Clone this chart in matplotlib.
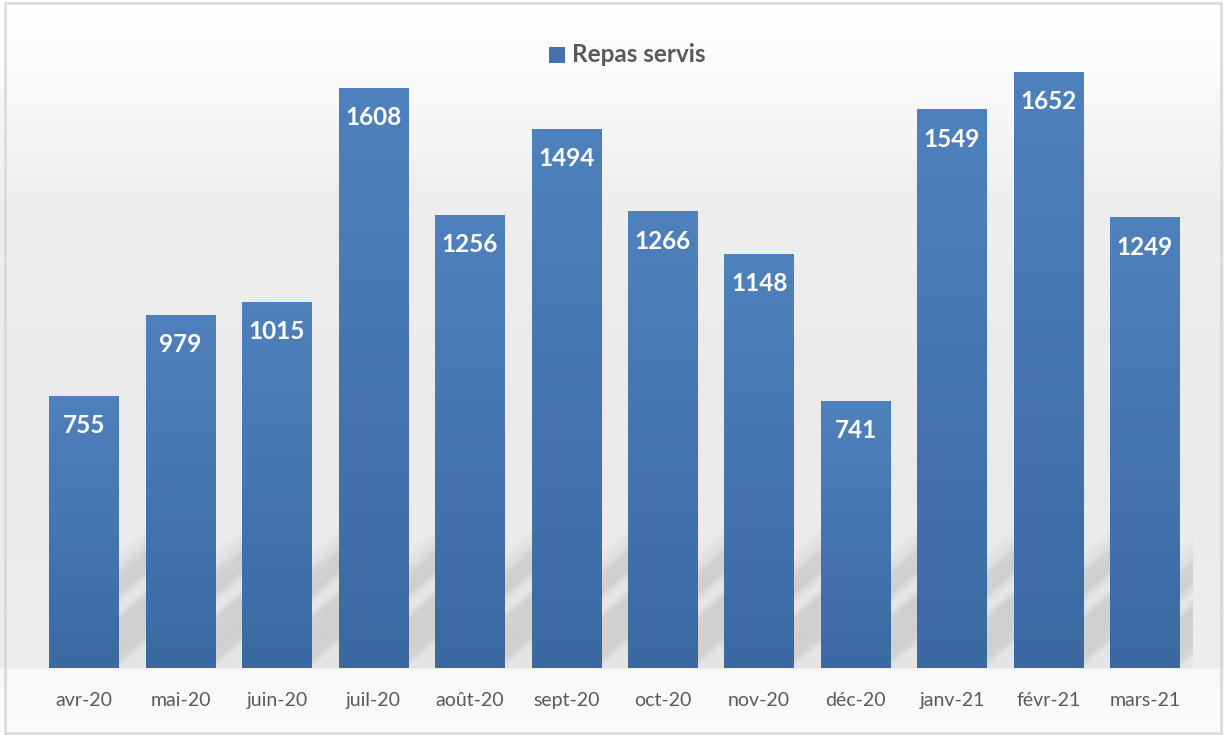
import numpy as np
import matplotlib
matplotlib.use("Agg")
import matplotlib.pyplot as plt
from matplotlib.patches import Rectangle
from matplotlib.colors import LinearSegmentedColormap

months = ["avr-20", "mai-20", "juin-20", "juil-20", "août-20", "sept-20",
          "oct-20", "nov-20", "déc-20", "janv-21", "févr-21", "mars-21"]
repas = [755, 979, 1015, 1608, 1256, 1494, 1266, 1148, 741, 1549, 1652, 1249]
series_name = "Repas servis"

plt.rcParams['font.family'] = ['Lato', 'DejaVu Sans']

W, H = 1224, 735
fig = plt.figure(figsize=(W / 100, H / 100), dpi=100)

# background gradient (figure pixels, from top)
bg = fig.add_axes([0, 0, 1, 1])
bg.set_axis_off()
ypx = np.arange(H)
vals = np.interp(ypx, [0, 60, 200, 450, 668, 669, 735],
                 [255, 252, 238, 234, 238, 248, 252]) / 255.0
bg_img = np.repeat(vals[:, None], 3, axis=1)[:, None, :]
bg.imshow(bg_img, aspect="auto", extent=[0, 1, 0, 1], origin="upper")
bg.set_xlim(0, 1)
bg.set_ylim(0, 1)
bg.add_patch(Rectangle((5 / W, 2 / H), 1216 / W, 730 / H,
                       fill=False, edgecolor="#d9d9d9", linewidth=1.8))

ax_l, ax_r, base_px, top_px = 36, 1193, 668, 18.6
ax = fig.add_axes([ax_l / W, 1 - base_px / H, (ax_r - ax_l) / W, (base_px - top_px) / H])
ax.patch.set_alpha(0)
x = np.arange(len(months))
width = 0.72
ymax = 1800
ax.set_xlim(-0.5, len(months) - 0.5)
ax.set_ylim(0, ymax)

# slanted soft shadows in the gaps (pixel grid over the lower part of the axes)
npx = ax_r - ax_l
sh_h = 140
px_per_x = npx / len(months)
px_per_y = (base_px - top_px) / ymax
gx = np.arange(npx)[None, :] + 0.5
gy = np.arange(sh_h)[:, None] + 0.5
alpha = np.zeros((sh_h, npx))
for xi in x:
    br = (xi + width / 2 + 0.5) * px_per_x
    d = gx - br
    inside = (d >= -1) & (d <= (1 - width) * px_per_x + 2)
    hp = gy - 0.85 * d
    prof = np.interp(hp, [-40, 0, 8, 20, 48, 56, 62, 68, 76, 92, 102, 118],
                     [0.04, 0.05, 0.15, 0.17, 0.16, 0.05, 0.03, 0.08, 0.17, 0.15, 0.07, 0.0])
    alpha = np.where(inside, np.maximum(alpha, prof), alpha)
sh = np.zeros((sh_h, npx, 4))
sh[..., :3] = 0.25
sh[..., 3] = alpha
ax.imshow(sh, aspect="auto", origin="lower", interpolation="bilinear",
          extent=[-0.5, len(months) - 0.5, 0, sh_h / px_per_y], zorder=1)

bars = ax.bar(x, repas, width=width, color="none", zorder=2)
cm_bar = LinearSegmentedColormap.from_list("bar", ["#3c69a2", "#4f81bd"])
for b in bars:
    x0, w, h = b.get_x(), b.get_width(), b.get_height()
    im = ax.imshow(np.linspace(0, 1, 256).reshape(-1, 1), aspect="auto", cmap=cm_bar,
                   extent=[x0, x0 + w, 0, h], origin="lower", zorder=2)
    im.set_clip_path(b)

for xi, v in zip(x, repas):
    ax.annotate(str(v), (xi, v), xytext=(0, -30), textcoords="offset pixels",
                ha="center", va="center", color="white", fontsize=17.5,
                fontweight="bold", zorder=3)

ax.set_xticks(x)
ax.set_xticklabels(months, fontsize=14, color="#595959")
ax.tick_params(axis="x", length=0, pad=17)
ax.set_yticks([])
for sp in ax.spines.values():
    sp.set_visible(False)
ax.set_xlim(-0.5, len(months) - 0.5)
ax.set_ylim(0, ymax)

# legend
fig.patches.append(Rectangle((549 / W, 1 - 63 / H), 16 / W, 16 / H,
                             transform=fig.transFigure, facecolor="#4472b0",
                             edgecolor="none"))
fig.text(572 / W, 1 - 55 / H, series_name, fontsize=17.5, fontweight="bold",
         color="#595959", ha="left", va="center")

fig.savefig("out.png", dpi=100)
